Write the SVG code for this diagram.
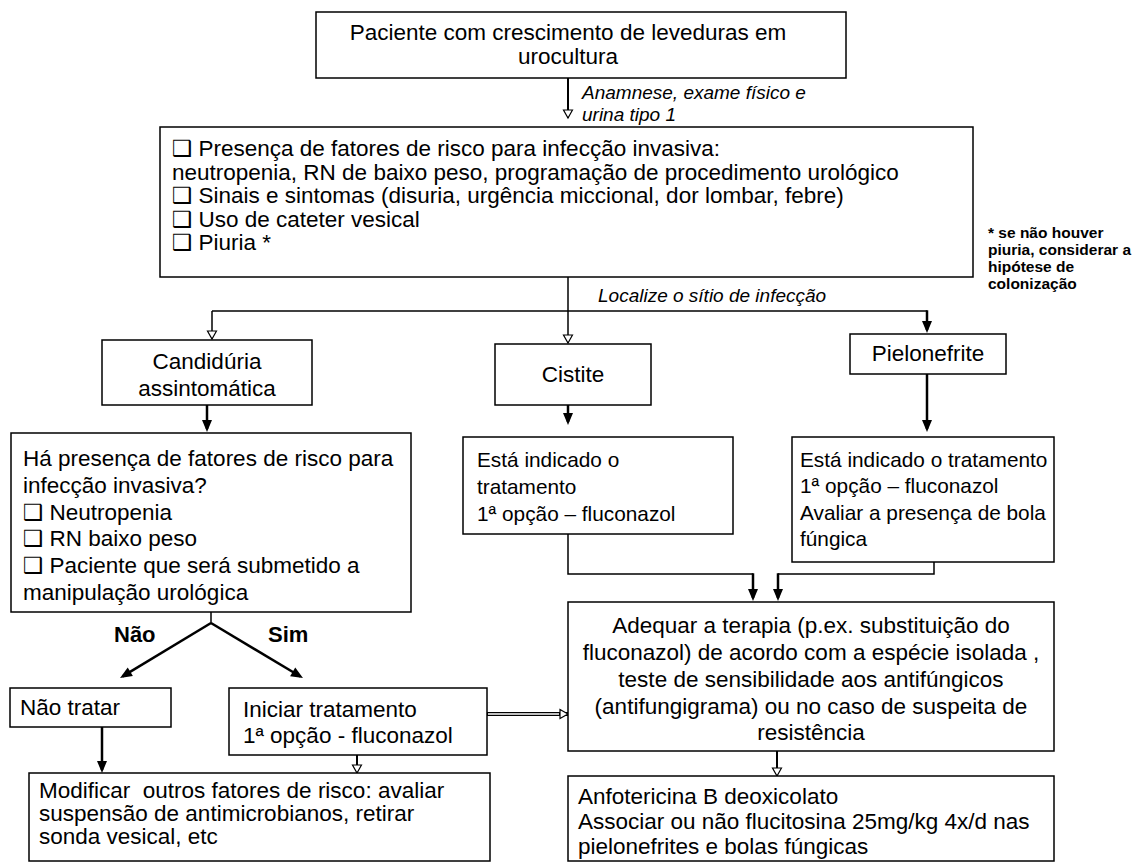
<svg xmlns="http://www.w3.org/2000/svg" width="1136" height="863" viewBox="0 0 1136 863">
<style>
text { font-family: "Liberation Sans", Arial, "DejaVu Sans", sans-serif; font-size: 22.5px; fill: #000; }
.s { font-size: 20.8px; }
.i { font-style: italic; font-size: 19px; }
.n { font-weight: bold; font-size: 15.5px; }
.b { font-weight: bold; font-size: 22px; }
.m { text-anchor: middle; }
.box { fill: #fff; stroke: #000; stroke-width: 1.5; }
.ln { fill: none; stroke: #000; stroke-width: 1.5; }
.th { fill: none; stroke: #000; stroke-width: 2.5; }
.md { fill: none; stroke: #000; stroke-width: 2; }
</style>
<defs>
<marker id="ao" markerUnits="userSpaceOnUse" markerWidth="12" markerHeight="12" refX="10" refY="6" orient="auto" overflow="visible">
<path d="M2,1.5 L10,6 L2,10.5 z" fill="#fff" stroke="#000" stroke-width="1.2"/>
</marker>
<marker id="af" markerUnits="userSpaceOnUse" markerWidth="14" markerHeight="12" refX="9" refY="6" orient="auto" overflow="visible">
<path d="M0,1 L12,6 L0,11 z" fill="#000"/>
</marker>
</defs>
<rect width="1136" height="863" fill="#fff"/>

<g id="connectors">
<path class="md" d="M568,78 V118" marker-end="url(#ao)"/>
<path class="ln" d="M568,277 V343" marker-end="url(#ao)"/>
<path class="ln" d="M212,311 H927"/>
<path class="ln" d="M212,311 V339" marker-end="url(#ao)"/>
<path class="th" d="M927,310.25 V330" marker-end="url(#af)"/>
<path class="th" d="M207,405 V429" marker-end="url(#af)"/>
<path class="th" d="M568,405 V422" marker-end="url(#af)"/>
<path class="th" d="M927,374 V429" marker-end="url(#af)"/>
<path class="ln" d="M568,534 V574 H753"/>
<path class="th" d="M753,573.25 V598" marker-end="url(#af)"/>
<path class="ln" d="M934,562 V574 H778"/>
<path class="th" d="M778,573.25 V598" marker-end="url(#af)"/>
<path class="ln" d="M211,612 V623"/>
<path class="th" d="M211,623 L122.6,676.4" marker-end="url(#af)"/>
<path class="th" d="M211,623 L300.4,676.5" marker-end="url(#af)"/>
<path class="th" d="M102,727 V770" marker-end="url(#af)"/>
<path class="md" d="M357,755 V773" marker-end="url(#ao)"/>
<path fill="none" stroke="#000" stroke-width="4" d="M487,714 H568" marker-end="url(#ao)"/>
<path fill="none" stroke="#fff" stroke-width="1.4" d="M488,714 H559"/>
<path class="md" d="M777,751 V776" marker-end="url(#ao)"/>
<text class="i" x="582" y="99">Anamnese, exame físico e</text>
<text class="i" x="582" y="121">urina tipo 1</text>
<text class="i" x="598" y="302">Localize o sítio de infecção</text>
<text class="b" x="114" y="642">Não</text>
<text class="b" x="268" y="642">Sim</text>
</g>

<g id="n-paciente">
<rect class="box" x="316" y="12" width="530" height="66"/>
<text class="m" x="568" y="40">Paciente com crescimento de leveduras em</text>
<text class="m" x="568" y="64">urocultura</text>
</g>

<g id="n-fatores">
<rect class="box" x="160" y="127" width="813" height="150"/>
<text x="172" y="156">❑ Presença de fatores de risco para infecção invasiva:</text>
<text x="172" y="180">neutropenia, RN de baixo peso, programação de procedimento urológico</text>
<text x="172" y="203">❑ Sinais e sintomas (disuria, urgência miccional, dor lombar, febre)</text>
<text x="172" y="227">❑ Uso de cateter vesical</text>
<text x="172" y="250">❑ Piuria *</text>
</g>

<g id="n-nota">
<text class="n" x="988" y="238">* se não houver</text>
<text class="n" x="988" y="255">piuria, considerar a</text>
<text class="n" x="988" y="272">hipótese de</text>
<text class="n" x="988" y="289">colonização</text>
</g>

<g id="n-candiduria">
<rect class="box" x="102" y="340" width="210" height="65"/>
<text class="m" x="207" y="369">Candidúria</text>
<text class="m" x="207" y="396">assintomática</text>
</g>

<g id="n-cistite">
<rect class="box" x="495" y="344" width="156" height="61"/>
<text class="m" x="573" y="382">Cistite</text>
</g>

<g id="n-pielonefrite">
<rect class="box" x="850" y="334" width="156" height="40"/>
<text class="m" x="928" y="361">Pielonefrite</text>
</g>

<g id="n-risco">
<rect class="box" x="11" y="433" width="400" height="179"/>
<text x="23" y="466">Há presença de fatores de risco para</text>
<text x="23" y="493">infecção invasiva?</text>
<text x="23" y="520">❑ Neutropenia</text>
<text x="23" y="546">❑ RN baixo peso</text>
<text x="23" y="573">❑ Paciente que será submetido a</text>
<text x="23" y="600">manipulação urológica</text>
</g>

<g id="n-cistite-trat">
<rect class="box" x="463" y="437" width="270" height="97"/>
<text class="s" x="477" y="467">Está indicado o</text>
<text class="s" x="477" y="494">tratamento</text>
<text class="s" x="477" y="521">1ª opção – fluconazol</text>
</g>

<g id="n-pielo-trat">
<rect class="box" x="792" y="437" width="262" height="125"/>
<text class="s" x="800" y="467">Está indicado o tratamento</text>
<text class="s" x="800" y="493">1ª opção – fluconazol</text>
<text class="s" x="800" y="520">Avaliar a presença de bola</text>
<text class="s" x="800" y="546">fúngica</text>
</g>

<g id="n-adequar">
<rect class="box" x="568" y="602" width="486" height="149"/>
<text class="m" x="811" y="633">Adequar a terapia (p.ex. substituição do</text>
<text class="m" x="811" y="660">fluconazol) de acordo com a espécie isolada ,</text>
<text class="m" x="811" y="687">teste de sensibilidade aos antifúngicos</text>
<text class="m" x="811" y="714">(antifungigrama) ou no caso de suspeita de</text>
<text class="m" x="811" y="740">resistência</text>
</g>

<g id="n-nao-tratar">
<rect class="box" x="10" y="688" width="161" height="39"/>
<text x="20" y="715">Não tratar</text>
</g>

<g id="n-iniciar">
<rect class="box" x="229" y="688" width="258" height="67"/>
<text x="243" y="717">Iniciar tratamento</text>
<text x="243" y="743">1ª opção - fluconazol</text>
</g>

<g id="n-modificar">
<rect class="box" x="29" y="773" width="461" height="88"/>
<text x="39" y="798" xml:space="preserve">Modificar  outros fatores de risco: avaliar</text>
<text x="39" y="821">suspensão de antimicrobianos, retirar</text>
<text x="39" y="844">sonda vesical, etc</text>
</g>

<g id="n-anfotericina">
<rect class="box" x="568" y="776" width="486" height="85"/>
<text x="578" y="804">Anfotericina B deoxicolato</text>
<text x="578" y="829">Associar ou não flucitosina 25mg/kg 4x/d nas</text>
<text x="578" y="854">pielonefrites e bolas fúngicas</text>
</g>
</svg>
